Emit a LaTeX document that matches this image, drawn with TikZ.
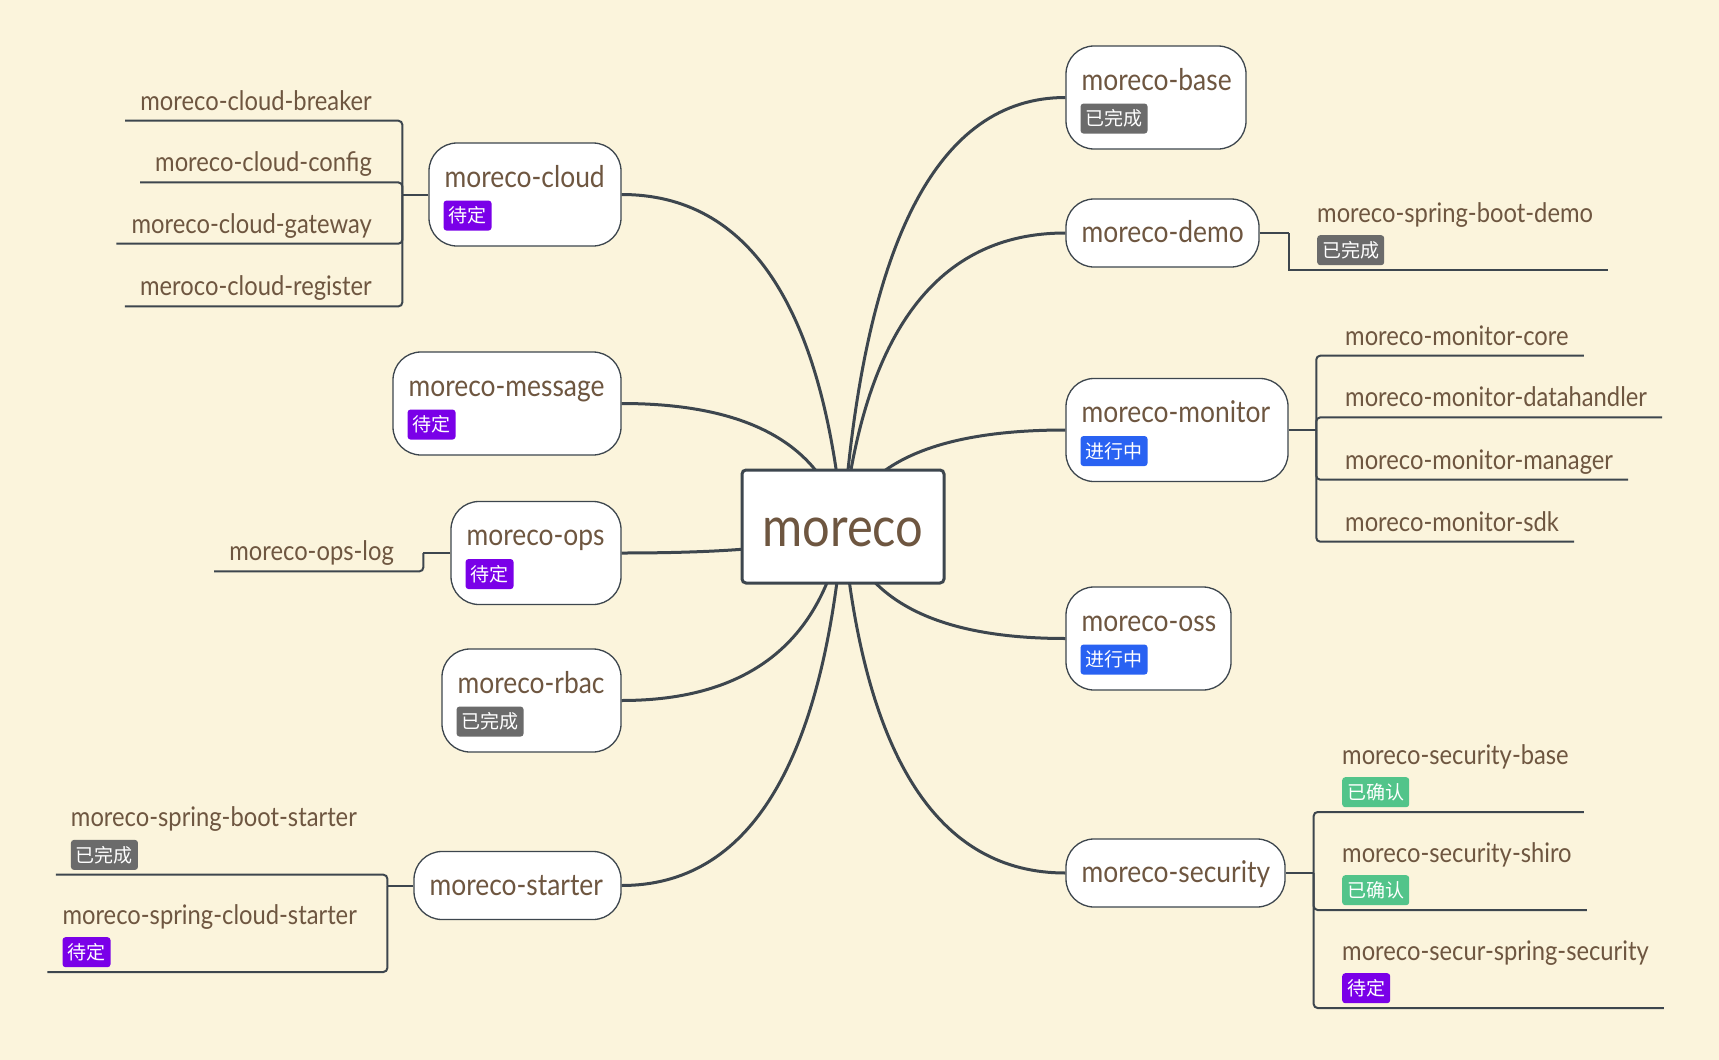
\documentclass[tikz,border=0pt]{standalone}
\usepackage{fontspec}
\setmainfont{Lato}[FakeStretch=0.88]
\newfontfamily\cjk{Noto Sans CJK SC}
\usepackage{tikz}

\definecolor{paper}{RGB}{251,244,220}
\definecolor{ink}{RGB}{110,86,64}
\definecolor{wire}{RGB}{61,70,78}
\definecolor{pending}{RGB}{122,0,232}
\definecolor{done}{RGB}{107,107,107}
\definecolor{doing}{RGB}{41,98,242}
\definecolor{confirmed}{RGB}{82,196,138}

\tikzset{
  hubbox/.style={draw=wire,line width=3pt,fill=white,rounded corners=4pt,minimum width=202pt,minimum height=113pt,inner sep=0pt,text=ink,font=\fontsize{55.5}{64}\selectfont,text height=40pt,text depth=0pt},
  topicbox/.style={draw=wire,line width=1.3pt,fill=white,rounded corners=28pt,minimum height=103pt,inner sep=0pt},
  slim/.style={minimum height=68pt},
  topic/.style={inner sep=0pt,text=ink,font=\fontsize{30}{36}\selectfont},
  leaf/.style={inner sep=0pt,text=ink,font=\fontsize{27}{32}\selectfont},
  badge/.style={inner xsep=5pt,inner ysep=0pt,minimum height=30pt,rounded corners=3pt,text=white,font=\cjk\fontsize{19}{19}\selectfont},
  limb/.style={draw=wire,line width=3pt},
  twig/.style={draw=wire,line width=2pt},
}

\begin{document}
\begin{tikzpicture}[x=1pt,y=-1pt]
\useasboundingbox[fill=paper] (0,0) rectangle (1719,1060);
\coordinate (hub) at (843,526.5);

% left topics
\node[topicbox,minimum width=192pt] (cloud) at (525,194.5) {};
\node[topic,anchor=base west] (cloudname) at ([shift={(16,45)}]cloud.north west) {moreco-cloud};
\node[badge,fill=pending,anchor=north west] (cloudtag) at ([shift={(15,58)}]cloud.north west) {待定};
\node[topicbox,minimum width=228pt] (message) at (507,403.5) {};
\node[topic,anchor=base west] (messagename) at ([shift={(16,45)}]message.north west) {moreco-message};
\node[badge,fill=pending,anchor=north west] (messagetag) at ([shift={(15,58)}]message.north west) {待定};
\node[topicbox,minimum width=170pt] (ops) at (536,553) {};
\node[topic,anchor=base west] (opsname) at ([shift={(16,45)}]ops.north west) {moreco-ops};
\node[badge,fill=pending,anchor=north west] (opstag) at ([shift={(15,58)}]ops.north west) {待定};
\node[topicbox,minimum width=179pt] (rbac) at (531.5,700.5) {};
\node[topic,anchor=base west] (rbacname) at ([shift={(16,45)}]rbac.north west) {moreco-rbac};
\node[badge,fill=done,anchor=north west] (rbactag) at ([shift={(15,58)}]rbac.north west) {已完成};
\node[topicbox,slim,minimum width=207pt] (starter) at (517.5,885.5) {};
\node[topic,anchor=base west] (startername) at ([shift={(16,44.5)}]starter.north west) {moreco-starter};

% right topics
\node[topicbox,minimum width=180pt] (base) at (1156,97.5) {};
\node[topic,anchor=base west] (basename) at ([shift={(16,45)}]base.north west) {moreco-base};
\node[badge,fill=done,anchor=north west] (basetag) at ([shift={(15,58)}]base.north west) {已完成};
\node[topicbox,slim,minimum width=193pt] (demo) at (1162.5,233) {};
\node[topic,anchor=base west] (demoname) at ([shift={(16,44.5)}]demo.north west) {moreco-demo};
\node[topicbox,minimum width=222pt] (monitor) at (1177,430) {};
\node[topic,anchor=base west] (monitorname) at ([shift={(16,45)}]monitor.north west) {moreco-monitor};
\node[badge,fill=doing,anchor=north west] (monitortag) at ([shift={(15,58)}]monitor.north west) {进行中};
\node[topicbox,minimum width=165pt] (oss) at (1148.5,638.5) {};
\node[topic,anchor=base west] (ossname) at ([shift={(16,45)}]oss.north west) {moreco-oss};
\node[badge,fill=doing,anchor=north west] (osstag) at ([shift={(15,58)}]oss.north west) {进行中};
\node[topicbox,slim,minimum width=219pt] (security) at (1175.5,873) {};
\node[topic,anchor=base west] (securityname) at ([shift={(16,44.5)}]security.north west) {moreco-security};

% cloud leaves
\draw[twig] (cloud.west) -- ++(-26,0) coordinate (cloudfork);
\node[leaf,anchor=base east] (breaker) at (372,110) {moreco-cloud-breaker};
\node[leaf,anchor=base east] (config) at (372,171.7) {moreco-cloud-config};
\node[leaf,anchor=base east] (gateway) at (372,233) {moreco-cloud-gateway};
\node[leaf,anchor=base east] (register) at (372,295.7) {meroco-cloud-register};
\draw[twig,rounded corners=4pt] (cloudfork) |- ([shift={(-15,10.7)}]breaker.base west);
\draw[twig,rounded corners=4pt] (cloudfork) |- ([shift={(-15,10.7)}]config.base west);
\draw[twig,rounded corners=4pt] (cloudfork) |- ([shift={(-15,10.7)}]gateway.base west);
\draw[twig,rounded corners=4pt] (cloudfork) |- ([shift={(-15,10.7)}]register.base west);

% ops leaf
\draw[twig] (ops.west) -- ++(-27,0) coordinate (opsfork);
\node[leaf,anchor=base east] (opslog) at (394,560.7) {moreco-ops-log};
\draw[twig,rounded corners=4pt] (opsfork) |- ([shift={(-15,10.7)}]opslog.base west);

% starter leaves
\draw[twig] (starter.west) -- ++(-26,0) coordinate (starterfork);
\node[leaf,anchor=base east] (bootstarter) at (357,826.7) {moreco-spring-boot-starter};
\node[badge,fill=done,anchor=north west] (bootstartertag) at ([shift={(0,13)}]bootstarter.base west) {已完成};
\node[leaf,anchor=base east] (cloudstarter) at (357,924) {moreco-spring-cloud-starter};
\node[badge,fill=pending,anchor=north west] (cloudstartertag) at ([shift={(0,13)}]cloudstarter.base west) {待定};
\draw[twig,rounded corners=4pt] (starterfork) |- ([shift={(-15,48)}]bootstarter.base west);
\draw[twig,rounded corners=4pt] (starterfork) |- ([shift={(-15,48)}]cloudstarter.base west);

% demo leaf
\draw[twig] (demo.east) -- ++(29,0) coordinate (demofork);
\node[leaf,anchor=base west] (bootdemo) at (1317,222) {moreco-spring-boot-demo};
\node[badge,fill=done,anchor=north west] (bootdemotag) at ([shift={(0,13)}]bootdemo.base west) {已完成};
\draw[twig] (demofork) |- ([shift={(15,48)}]bootdemo.base east);

% monitor leaves
\draw[twig] (monitor.east) -- ++(27.6,0) coordinate (monitorfork);
\node[leaf,anchor=base west] (core) at (1345,345) {moreco-monitor-core};
\node[leaf,anchor=base west] (datahandler) at (1345,406.7) {moreco-monitor-datahandler};
\node[leaf,anchor=base west] (manager) at (1345,469) {moreco-monitor-manager};
\node[leaf,anchor=base west] (sdk) at (1345,531) {moreco-monitor-sdk};
\draw[twig,rounded corners=4pt] (monitorfork) |- ([shift={(15,10.7)}]core.base east);
\draw[twig,rounded corners=4pt] (monitorfork) |- ([shift={(15,10.7)}]datahandler.base east);
\draw[twig,rounded corners=4pt] (monitorfork) |- ([shift={(15,10.7)}]manager.base east);
\draw[twig,rounded corners=4pt] (monitorfork) |- ([shift={(15,10.7)}]sdk.base east);

% security leaves
\draw[twig] (security.east) -- ++(28,0) coordinate (securityfork);
\node[leaf,anchor=base west] (secbase) at (1342,764) {moreco-security-base};
\node[badge,fill=confirmed,anchor=north west] (secbasetag) at ([shift={(0,13)}]secbase.base west) {已确认};
\node[leaf,anchor=base west] (shiro) at (1342,862) {moreco-security-shiro};
\node[badge,fill=confirmed,anchor=north west] (shirotag) at ([shift={(0,13)}]shiro.base west) {已确认};
\node[leaf,anchor=base west] (springsec) at (1342,960) {moreco-secur-spring-security};
\node[badge,fill=pending,anchor=north west] (springsectag) at ([shift={(0,13)}]springsec.base west) {待定};
\draw[twig,rounded corners=4pt] (securityfork) |- ([shift={(15,48)}]secbase.base east);
\draw[twig,rounded corners=4pt] (securityfork) |- ([shift={(15,48)}]shiro.base east);
\draw[twig,rounded corners=4pt] (securityfork) |- ([shift={(15,48)}]springsec.base east);

% main limbs
\draw[limb] (hub) .. controls (822.3,305.2) and (748.3,194.5) .. (cloud.east);
\draw[limb] (hub) .. controls (822.3,444.5) and (748.3,403.5) .. (message.east);
\draw[limb] (hub) .. controls (822.3,544.2) and (748.3,553) .. (ops.east);
\draw[limb] (hub) .. controls (822.3,642.5) and (748.3,700.5) .. (rbac.east);
\draw[limb] (hub) .. controls (822.3,765.8) and (748.3,885.5) .. (starter.east);
\draw[limb] (hub) .. controls (863.8,240.5) and (938.2,97.5) .. (base.west);
\draw[limb] (hub) .. controls (863.8,330.8) and (938.2,233) .. (demo.west);
\draw[limb] (hub) .. controls (863.8,462.2) and (938.2,430) .. (monitor.west);
\draw[limb] (hub) .. controls (863.8,601.2) and (938.2,638.5) .. (oss.west);
\draw[limb] (hub) .. controls (863.8,757.5) and (938.2,873) .. (security.west);

\node[hubbox] (root) at (hub) {moreco};
\end{tikzpicture}
\end{document}
